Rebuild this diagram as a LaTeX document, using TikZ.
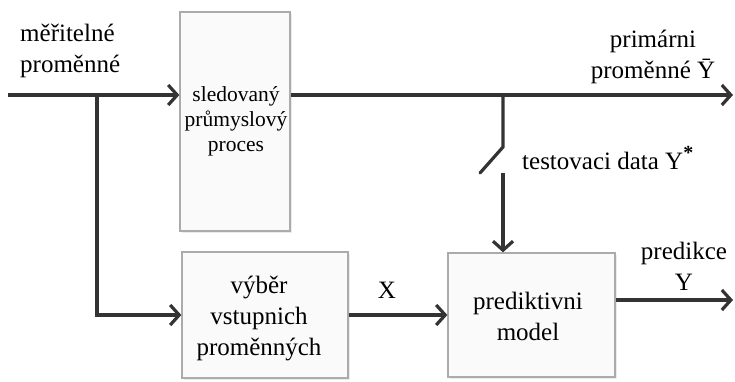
\documentclass[tikz,border=0pt]{standalone}
\usepackage{fontspec}
\setmainfont{Liberation Serif}
\usetikzlibrary{arrows.meta,shadows}
\definecolor{linegray}{HTML}{333333}
\definecolor{boxedge}{HTML}{ABABAB}
\definecolor{boxfill}{HTML}{FAFAFA}
\begin{document}
\begin{tikzpicture}[x=1pt,y=-1pt,
  flow/.style={draw=linegray,line width=3.2pt},
  arr/.style={flow,-{Straight Barb[length=9pt,width=20pt,line width=3.2pt]}},
  block/.style={draw=boxedge,line width=1.3pt,fill=boxfill,inner sep=0pt,
    drop shadow={shadow xshift=1.5pt,shadow yshift=-1.5pt,fill=black!15}},
  lbl/.style={font=\fontsize{25}{31}\selectfont,inner sep=0pt,align=center},
  small/.style={font=\fontsize{21.5}{25}\selectfont,inner sep=0pt,align=center}]
\useasboundingbox (0,0) rectangle (735,381);
\fill[white] (0,0) rectangle (735,381);

% blocks
\node[block,minimum width=110pt,minimum height=219pt] (proc) at (235,121.5) {};
\node[small] (proctext) at (236,121) {sledovaný\\průmyslový\\proces};
\node[block,minimum width=166pt,minimum height=126pt] (sel) at (265,315) {};
\node[lbl] (seltext) at (259,318) {výběr\\vstupnich\\proměnných};
\node[block,minimum width=167pt,minimum height=124pt] (model) at (531.5,315) {};
\node[lbl] (modeltext) at (528,316) {prediktivni\\model};

% connection points
\coordinate (in) at (8,95);
\coordinate (split) at (97,95);
\coordinate (yout) at (733,95);
\coordinate (tap) at (503,95);
\coordinate (swtop) at (503,147);
\coordinate (swblade) at (480,173);
\coordinate (swbot) at (503,173);
\coordinate (pred) at (733,300);

% signal flow
\draw[arr] (in) -- (in -| proc.west);
\draw[arr] (split) |- (sel.west);
\draw[arr] (in -| proc.east) -- (yout);
\draw[flow,line cap=round] (tap) -- (swtop) -- (swblade);
\draw[arr] (swbot) -- (swbot |- model.north);
\draw[arr] (sel.east) -- (model.west);
\draw[arr] (pred -| model.east) -- (pred);

% labels
\node[lbl,align=left,anchor=west] (meas) at (20,51) {měřitelné\\proměnné};
\node[lbl] (prim) at (653,57) {primárni\\proměnné Ȳ};
\node[lbl,anchor=west] (test) at (522,158) {testovaci data Y\raisebox{10pt}{\fontsize{20}{20}\selectfont\bfseries *}};
\node[lbl] (xlab) at (387,290) {X};
\node[lbl] (predlab) at (684,266) {predikce\\Y};
\end{tikzpicture}
\end{document}
